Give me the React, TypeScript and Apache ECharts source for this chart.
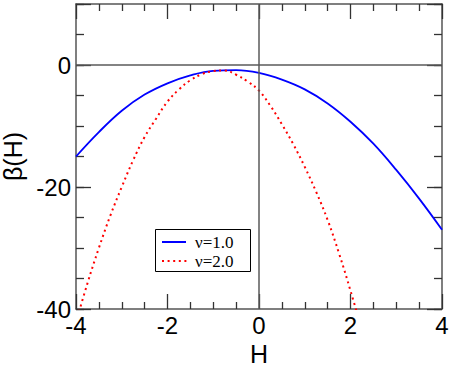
import React, { useEffect, useRef } from "react";
import * as echarts from "echarts";

const seriesNames = ["ν=1.0", "ν=2.0"];
const xName = "H";
const yName = "β(H)";

const hBlue = [-4, -3.5, -3, -2.5, -2, -1.5, -1, -0.5, 0, 0.5, 1, 1.5, 2, 2.5, 3, 3.5, 4];
const betaBlue = [-15.0, -11.0, -7.5, -4.85, -3.0, -1.7, -0.95, -0.85, -1.3, -2.4, -4.0, -6.3, -9.3, -12.9, -17.2, -21.9, -27.0];

const hRed = [-4, -3.75, -3.5, -3.25, -3, -2.75, -2.5, -2.25, -2, -1.75, -1.5, -1.25, -1, -0.75, -0.5, -0.25, 0, 0.25, 0.5, 0.75, 1, 1.25, 1.5, 1.75, 2, 2.25];
const betaRed = [-42.2, -35.8, -30.0, -24.7, -20.0, -15.6, -11.8, -8.8, -6.0, -4.0, -2.5, -1.5, -1.0, -0.9, -1.6, -2.7, -4.2, -6.7, -9.7, -13.0, -16.7, -20.8, -25.4, -30.9, -37.0, -43.5];

const xMin = -4, xMax = 4, xInterval = 2;
const yMin = -40, yMax = 10, yInterval = 20, yMinorInterval = 5;

const SANS = '"Liberation Sans", Arial, Helvetica, sans-serif';
const SERIF = '"Liberation Serif", "Times New Roman", serif';
const AXIS_COLOR = "#555";
const TICK_COLOR = "#333";

export default function App() {
  const ref = useRef<HTMLDivElement>(null);
  useEffect(() => {
    if (!ref.current) return;
    const chart = echarts.init(ref.current, null, { renderer: "svg" });
    const tickStyle = { color: TICK_COLOR, width: 1.3 };
    const xBase = (pos: string, labels: boolean) => ({
      type: "value",
      position: pos,
      min: xMin,
      max: xMax,
      interval: xInterval,
      axisLine: { show: true, onZero: false, lineStyle: { color: AXIS_COLOR, width: 1.5 } },
      axisTick: { show: true, inside: true, length: 15, lineStyle: tickStyle },
      minorTick: { show: true, splitNumber: 4, length: 7, lineStyle: tickStyle },
      splitLine: { show: false },
      minorSplitLine: { show: false },
      axisLabel: labels
        ? { show: true, fontSize: 24, color: "#000", margin: 4, fontFamily: SANS }
        : { show: false },
      ...(labels
        ? {
            name: xName,
            nameLocation: "middle",
            nameGap: 27,
            nameTextStyle: { fontSize: 25, color: "#000", fontFamily: SANS },
          }
        : {}),
    });
    const yBase = (pos: string, interval: number, major: boolean, labels: boolean) => ({
      type: "value",
      position: pos,
      min: yMin,
      max: yMax,
      interval,
      axisLine: { show: major, onZero: false, lineStyle: { color: AXIS_COLOR, width: 1.5 } },
      axisTick: { show: true, inside: true, length: major ? 15 : 8, lineStyle: tickStyle },
      splitLine: { show: false },
      axisLabel: labels
        ? {
            show: true,
            fontSize: 24,
            color: "#000",
            margin: 5,
            fontFamily: SANS,
            formatter: (v: number) => (v === yMax ? "" : String(v)),
          }
        : { show: false },
      ...(labels
        ? {
            name: yName,
            nameLocation: "middle",
            nameGap: 44,
            nameTextStyle: { fontSize: 25, color: "#000", fontFamily: SANS },
          }
        : {}),
    });

    chart.setOption({
      animation: false,
      backgroundColor: "#fff",
      grid: { left: 76, right: 10, top: 4, bottom: 70, containLabel: false, outerBoundsMode: "none" },
      xAxis: [xBase("bottom", true), xBase("top", false)],
      yAxis: [
        yBase("left", yInterval, true, true),
        yBase("left", yMinorInterval, false, false),
        yBase("right", yInterval, true, false),
        yBase("right", yMinorInterval, false, false),
      ],
      series: [
        {
          name: seriesNames[0],
          type: "line",
          data: hBlue.map((h, i) => [h, betaBlue[i]]),
          smooth: 0.4,
          symbol: "none",
          clip: true,
          lineStyle: { color: "#0000ff", width: 1.8 },
          markLine: {
            silent: true,
            symbol: ["none", "none"],
            label: { show: false },
            lineStyle: { color: "#5a5a5a", width: 1.5, type: "solid" },
            data: [{ yAxis: 0 }, { xAxis: 0 }],
          },
          z: 3,
        },
        {
          name: seriesNames[1],
          type: "line",
          data: hRed.map((h, i) => [h, betaRed[i]]),
          smooth: 0.4,
          symbol: "none",
          clip: true,
          lineStyle: { color: "#ff0000", width: 2, type: [2, 3.6] },
          z: 3,
        },
      ],
      graphic: [
        {
          type: "rect",
          shape: { x: 155.5, y: 229.5, width: 95, height: 42 },
          style: { fill: "#fff", stroke: "#000", lineWidth: 1 },
          z: 10,
        },
        {
          type: "line",
          shape: { x1: 162, y1: 242, x2: 186, y2: 242 },
          style: { stroke: "#0000ff", lineWidth: 2 },
          z: 11,
        },
        {
          type: "line",
          shape: { x1: 162, y1: 261, x2: 188, y2: 261 },
          style: { stroke: "#ff0000", lineWidth: 2, lineDash: [2, 3.6] },
          z: 11,
        },
        {
          type: "text",
          x: 195,
          y: 242,
          style: { text: seriesNames[0], fontSize: 17, fontFamily: SERIF, fill: "#000", verticalAlign: "middle" },
          z: 11,
        },
        {
          type: "text",
          x: 195,
          y: 261,
          style: { text: seriesNames[1], fontSize: 17, fontFamily: SERIF, fill: "#000", verticalAlign: "middle" },
          z: 11,
        },
      ],
    });
    return () => chart.dispose();
  }, []);
  return (
    <div
      ref={ref}
      style={{ position: "fixed", left: 0, top: 0, width: 452, height: 379 }}
    />
  );
}
